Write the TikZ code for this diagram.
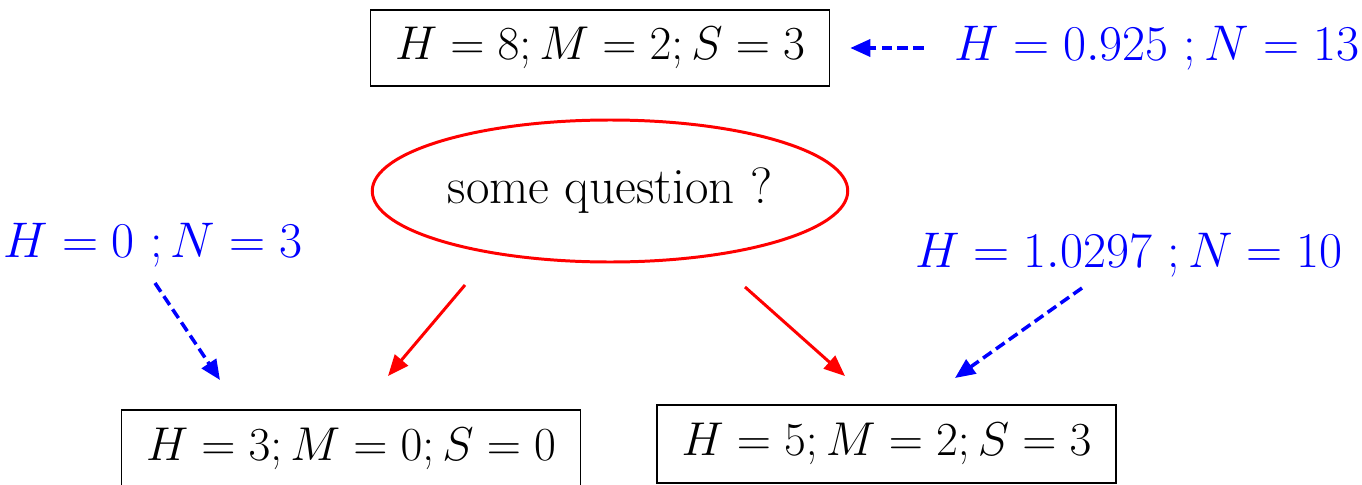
\RequirePackage{fix-cm}
\documentclass[tikz,border=0pt]{standalone}
\usetikzlibrary{arrows.meta, shapes.geometric}
\definecolor{cLbl}{HTML}{0000FF}
\definecolor{cQst}{HTML}{FF0000}

\begin{document}
\begin{tikzpicture}[
  font=\fontsize{27}{32}\selectfont,
  box/.style={draw, line width=0.9pt, minimum width=9.18cm, minimum height=1.52cm, inner sep=0pt},
  qst/.style={ellipse, draw=cQst, line width=1.7pt, minimum width=9.5cm, minimum height=2.84cm,
              font=\fontsize{29}{34}\selectfont},
  lbl/.style={text=cLbl, font=\fontsize{28.5}{34}\selectfont},
  rarr/.style={-{Triangle[length=4.2mm, width=3.4mm]}, line width=1.7pt, draw=cQst},
  barr/.style={-{Triangle[length=4mm, width=3.4mm]}, line width=2pt, draw=cLbl, dash pattern=on 6pt off 3pt}
]
\useasboundingbox (0,0) rectangle (27.24,-9.7);

% ROOT
\node[box] (root) at (12.0,-0.96) {$H=8; M=2; S=3$};
\node[lbl] (hroot) at (23.14,-0.96) {$H=0.925\ ; N=13$};
\path (hroot.west) ++(-0.5,0) coordinate (hr0) (root.east) ++(0.4,0) coordinate (hr1);
\draw[barr] (hr0) -- (hr1);

% QUESTION
\node[qst] (q) at (12.2,-3.82) {some question ?};

% LEAVES
\node[box, minimum height=1.56cm] (left) at (7.02,-8.98) {$H=3; M=0; S=0$};
\node[box, minimum height=1.56cm] (right) at (17.73,-8.88) {$H=5; M=2; S=3$};

\node[lbl] (hleft) at (3.06,-4.9) {$H=0\ ; N=3$};
\node[lbl] (hright) at (22.58,-5.1) {$H=1.0297\ ; N=10$};

% ARROWS
\coordinate (ql) at (9.3,-5.7);
\coordinate (qr) at (14.9,-5.74);
\coordinate (lt) at (7.76,-7.52);
\coordinate (rt) at (16.9,-7.52);
\draw[rarr] (ql) -- (lt);
\draw[rarr] (qr) -- (rt);

\coordinate (hl0) at (3.1,-5.66);
\coordinate (hl1) at (4.4,-7.6);
\coordinate (hr2) at (21.64,-5.76);
\coordinate (hr3) at (19.1,-7.56);
\draw[barr] (hl0) -- (hl1);
\draw[barr] (hr2) -- (hr3);

\end{tikzpicture}
\end{document}
